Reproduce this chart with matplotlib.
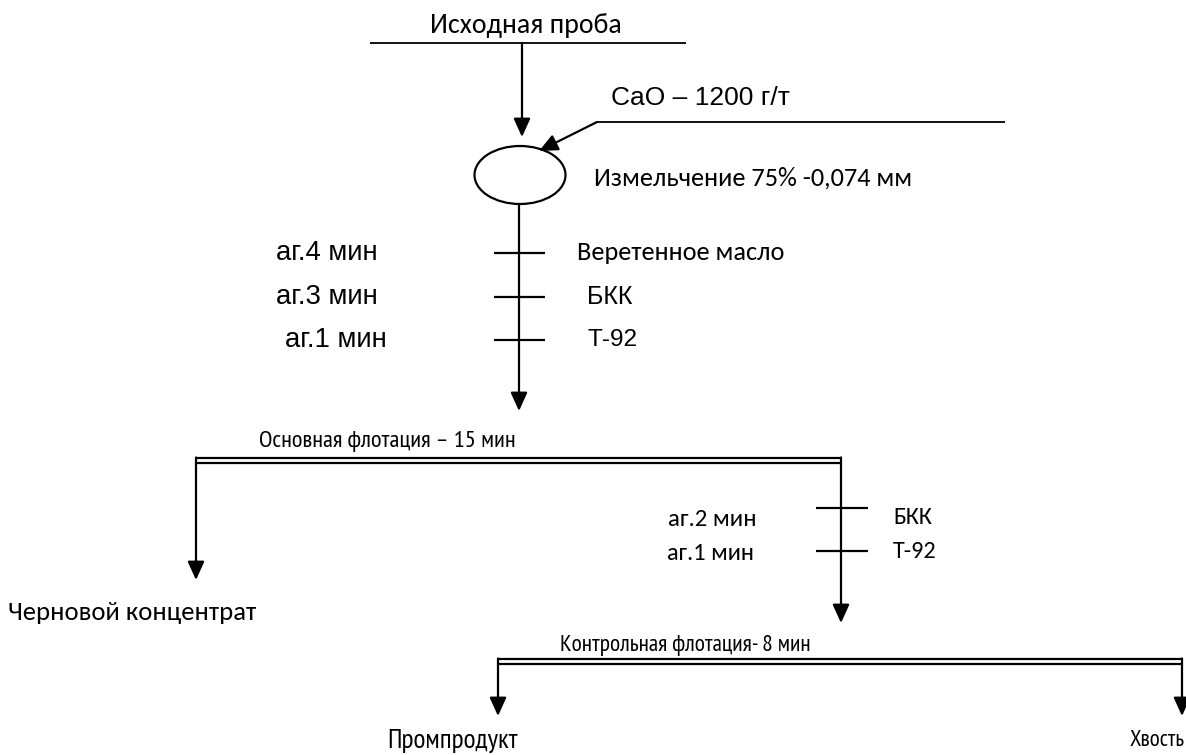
import matplotlib
matplotlib.use("Agg")
import matplotlib.pyplot as plt
from matplotlib.patches import Ellipse

W, H = 1186, 755
fig = plt.figure(figsize=(W / 100, H / 100), dpi=100)
ax = fig.add_axes([0, 0, 1, 1])
ax.set_xlim(0, W)
ax.set_ylim(H, 0)
ax.axis("off")
renderer = fig.canvas.get_renderer()

CAL = ["Carlito", "Lato", "DejaVu Sans"]
NAR = ["PT Sans Narrow", "Carlito", "Lato", "DejaVu Sans"]
ARI = ["Liberation Sans", "DejaVu Sans"]

# Text labels
feed_label = "Исходная проба"
lime_label = "CaO – 1200 г/т"
grind_label = "Измельчение 75% -0,074 мм"
cond1_times = ["аг.4 мин", "аг.3 мин", "аг.1 мин"]
cond1_reagents = ["Веретенное масло", "БКК", "Т-92"]
rougher_label = "Основная флотация – 15 мин"
cond2_times = ["аг.2 мин", "аг.1 мин"]
cond2_reagents = ["БКК", "Т-92"]
rough_conc_label = "Черновой концентрат"
scav_label = "Контрольная флотация- 8 мин"
middlings_label = "Промпродукт"
tails_label = "Хвость"

LW = 1.6
K = "black"


def line(x0, y0, x1, y1, lw=LW):
    ax.plot([x0, x1], [y0, y1], color=K, lw=lw, solid_capstyle="butt")


def arrow(x0, y0, x1, y1):
    ax.annotate("", xy=(x1, y1), xytext=(x0, y0),
                arrowprops=dict(arrowstyle="-|>,head_length=0.75,head_width=0.34",
                                color=K, lw=LW, mutation_scale=15,
                                shrinkA=0, shrinkB=0))


def dline(x0, x1, y, gap=5.5):
    line(x0, y, x1, y)
    line(x0, y + gap, x1, y + gap)


def fit_text(x0, x1, y, s, family, fs0=16.0):
    """Place text left-aligned at x0 and size it to span to x1."""
    t = ax.text(x0, y, s, family=family, fontsize=fs0, ha="left", va="center")
    w = t.get_window_extent(renderer).width
    t.set_fontsize(fs0 * (x1 - x0) / w)
    return t


# Feed
line(370, 43, 686, 43, lw=1.3)
fit_text(430, 622, 25, feed_label, CAL)
arrow(522, 43, 522, 137)

# Lime addition
fit_text(611, 790, 98, lime_label, ARI)
line(597, 122, 1005, 122, lw=1.3)
arrow(597, 122, 539, 151)

# Grinding
ax.add_patch(Ellipse((520, 175), 91, 58, fill=False, ec=K, lw=LW))
fit_text(594, 913, 178, grind_label, CAL)

# Conditioning 1
arrow(519, 204, 519, 411)
ys1 = [253, 297, 340]
xs_t1 = [(276, 378), (276, 378), (285, 387)]
for y, (xa, xb), t in zip(ys1, xs_t1, cond1_times):
    line(494, y, 545, y)
    fit_text(xa, xb, y, t, ARI)
fam_r1 = [CAL, ARI, ARI]
xs_r1 = [(577, 784), (587, 633), (587, 637)]
for y, (xa, xb), r, f in zip(ys1, xs_r1, cond1_reagents, fam_r1):
    fit_text(xa, xb, y, r, f)

# Rougher flotation
fit_text(259, 516, 441, rougher_label, NAR)
dline(196, 842, 457.5)
arrow(196, 457.5, 196, 580)
arrow(841, 457.5, 841, 623)
ys2 = [508, 551]
ys2_text = [519, 553]
xs_t2 = [(668, 757), (667, 754)]
xs_r2 = [(893, 932), (893, 937)]
for y, yt, (xa, xb), (ra, rb), t, r in zip(ys2, ys2_text, xs_t2, xs_r2,
                                           cond2_times, cond2_reagents):
    line(816, y, 868, y)
    fit_text(xa, xb, yt, t, CAL)
    fit_text(ra, rb, yt - 1, r, CAL)
fit_text(8, 256, 612, rough_conc_label, CAL)

# Scavenger flotation
fit_text(560, 812, 646, scav_label, NAR)
dline(498, 1183, 658.5)
arrow(498, 658.5, 498, 716)
arrow(1182, 658.5, 1182, 716)
fit_text(387, 518, 741, middlings_label, NAR)
fit_text(1130, 1185, 741, tails_label, NAR)

fig.savefig("out.png", dpi=100)
